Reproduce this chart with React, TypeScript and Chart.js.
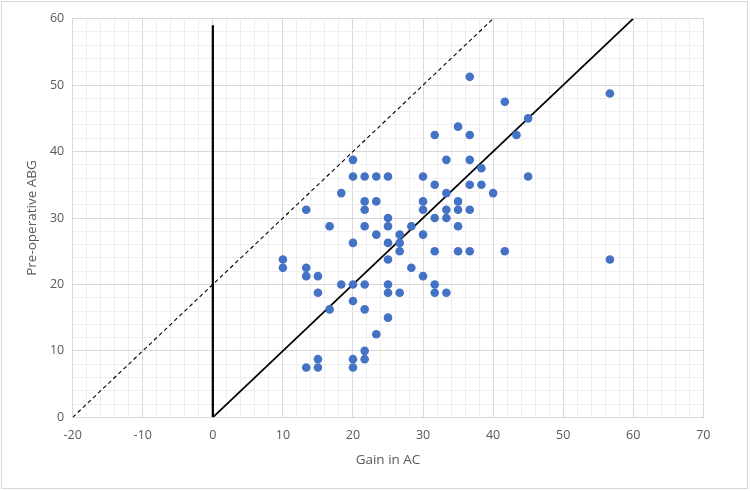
import React, { useEffect, useRef } from "react";
import { Chart, registerables } from "chart.js";

Chart.register(...registerables);

// Scatter data: Gain in AC (x) vs Pre-operative ABG (y)
const gainAC = [
  36.67,
  56.67,
  41.67,
  45,
  35,
  31.67, 36.67, 43.33,
  20, 33.33, 36.67,
  38.33,
  20, 21.67, 23.33, 25, 30, 45,
  31.67, 36.67, 38.33,
  18.33, 33.33, 40,
  21.67, 23.33, 30, 35,
  13.33, 21.67, 30, 33.33, 35, 36.67,
  25, 31.67, 33.33,
  16.67, 21.67, 25, 28.33, 35,
  23.33, 26.67, 30,
  20, 25, 26.67,
  26.67, 31.67, 35, 36.67, 41.67,
  10, 25, 56.67,
  10, 13.33, 28.33,
  13.33, 15, 30,
  18.33, 20, 21.67, 25, 31.67,
  15, 25, 26.67, 31.67, 33.33,
  20,
  16.67, 21.67,
  25,
  23.33,
  21.67,
  15, 20, 21.67,
  13.33, 15, 20,
];

const preopABG = [
  51.25,
  48.75,
  47.5,
  45,
  43.75,
  42.5, 42.5, 42.5,
  38.75, 38.75, 38.75,
  37.5,
  36.25, 36.25, 36.25, 36.25, 36.25, 36.25,
  35, 35, 35,
  33.75, 33.75, 33.75,
  32.5, 32.5, 32.5, 32.5,
  31.25, 31.25, 31.25, 31.25, 31.25, 31.25,
  30, 30, 30,
  28.75, 28.75, 28.75, 28.75, 28.75,
  27.5, 27.5, 27.5,
  26.25, 26.25, 26.25,
  25, 25, 25, 25, 25,
  23.75, 23.75, 23.75,
  22.5, 22.5, 22.5,
  21.25, 21.25, 21.25,
  20, 20, 20, 20, 20,
  18.75, 18.75, 18.75, 18.75, 18.75,
  17.5,
  16.25, 16.25,
  15,
  12.5,
  10,
  8.75, 8.75, 8.75,
  7.5, 7.5, 7.5,
];

// Reference lines
const identityX = [0, 60];
const identityY = [0, 60];
const offsetX = [-20, 40];
const offsetY = [0, 60];
const zeroX = [0, 0];
const zeroY = [0, 59];

const xMin = -20;
const xMax = 70;
const yMin = 0;
const yMax = 60;
const gridStep = 2;
const labelStep = 10;

const toPoints = (xs: number[], ys: number[]) => xs.map((x, i) => ({ x, y: ys[i] }));

export default function App() {
  const ref = useRef<HTMLCanvasElement | null>(null);

  useEffect(() => {
    if (!ref.current) return;
    const textColor = "#595959";
    const font = { family: "'Open Sans', sans-serif", size: 12.5 };
    const titleFont = { family: "'Open Sans', sans-serif", size: 13.5 };
    const gridColor = (ctx: any) =>
      ctx.tick && Math.abs(ctx.tick.value % labelStep) < 1e-9 ? "#d9d9d9" : "#eeeeee";
    const tickCb = (v: any) => (Math.abs(Number(v) % labelStep) < 1e-9 ? String(v) : "");

    const chart = new Chart(ref.current, {
      type: "scatter",
      data: {
        datasets: [
          {
            label: "data",
            data: toPoints(gainAC, preopABG),
            backgroundColor: "#4472C4",
            borderWidth: 0,
            pointRadius: 4.3,
            showLine: false,
          },
          {
            label: "zero",
            data: toPoints(zeroX, zeroY),
            showLine: true,
            borderColor: "#000000",
            borderWidth: 2.25,
            pointRadius: 0,
          },
          {
            label: "identity",
            data: toPoints(identityX, identityY),
            showLine: true,
            borderColor: "#000000",
            borderWidth: 1.75,
            pointRadius: 0,
          },
          {
            label: "offset",
            data: toPoints(offsetX, offsetY),
            showLine: true,
            borderColor: "#000000",
            borderWidth: 1.1,
            borderDash: [4, 3],
            pointRadius: 0,
          },
        ],
      },
      options: {
        animation: false,
        responsive: false,
        layout: { padding: { top: 18.7, right: 46.7, left: 0, bottom: 0 } },
        plugins: { legend: { display: false }, tooltip: { enabled: false } },
        scales: {
          x: {
            type: "linear",
            min: xMin,
            max: xMax,
            afterFit: (s: any) => {
              s.height = 73.7;
            },
            ticks: {
              stepSize: gridStep,
              autoSkip: false,
              maxRotation: 0,
              padding: 11,
              color: textColor,
              font,
              callback: tickCb,
            },
            grid: { color: gridColor, drawTicks: false, lineWidth: 1 },
            border: { color: "#d9d9d9" },
            title: {
              display: true,
              text: "Gain in AC",
              color: textColor,
              font: titleFont,
              padding: { top: 0, bottom: 23 },
            },
          },
          y: {
            type: "linear",
            min: yMin,
            max: yMax,
            afterFit: (s: any) => {
              s.width = 72.7;
            },
            ticks: {
              stepSize: gridStep,
              autoSkip: false,
              padding: 8.5,
              color: textColor,
              font,
              callback: tickCb,
            },
            grid: { color: gridColor, drawTicks: false, lineWidth: 1 },
            border: { color: "#d9d9d9" },
            title: {
              display: true,
              text: "Pre-operative ABG",
              color: textColor,
              font: titleFont,
              padding: { top: 24, bottom: 0 },
            },
          },
        },
      },
    });
    return () => chart.destroy();
  }, []);

  return (
    <div style={{ position: "fixed", left: 0, top: 0, width: 750, height: 491, background: "#fff" }}>
      <canvas ref={ref} width={750} height={491} style={{ width: 750, height: 491, display: "block" }} />
      <div
        style={{
          position: "absolute",
          left: 1,
          top: 1,
          width: 745,
          height: 486,
          border: "1px solid #d9d9d9",
          pointerEvents: "none",
        }}
      />
    </div>
  );
}
